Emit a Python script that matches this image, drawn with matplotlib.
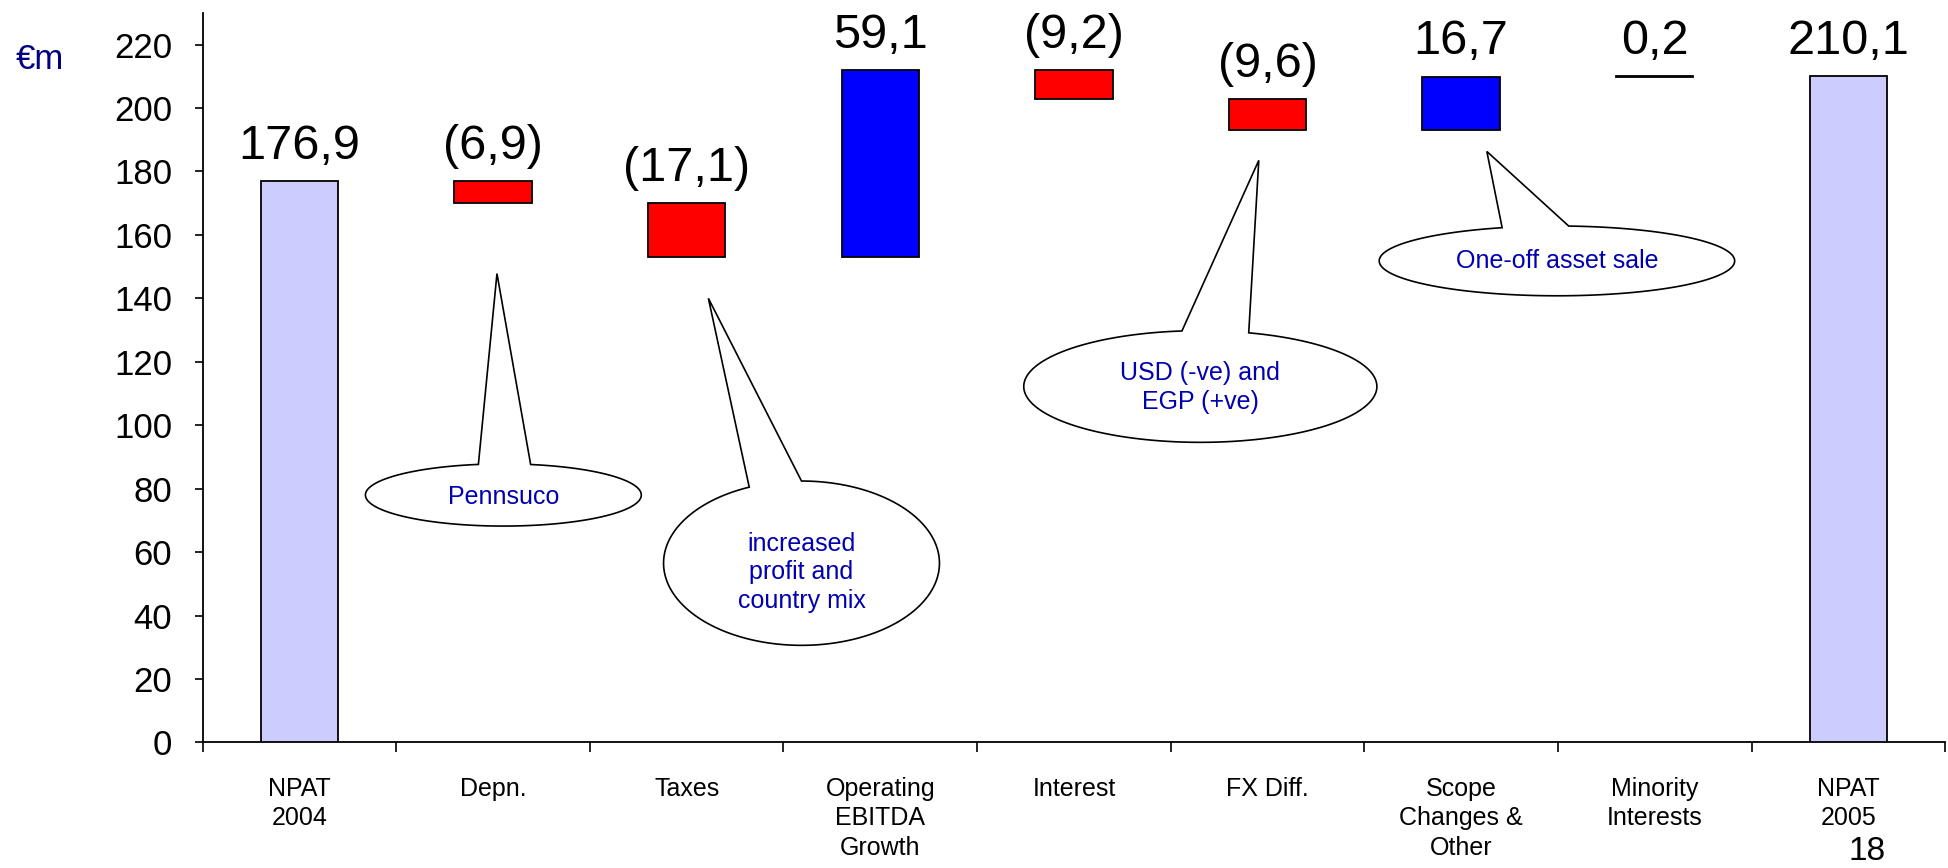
import numpy as np
import matplotlib
matplotlib.use("Agg")
import matplotlib.pyplot as plt
from matplotlib.patches import Polygon

plt.rcParams['font.family'] = ['Liberation Sans', 'DejaVu Sans']

# ---- data ----
categories = ["NPAT\n2004", "Depn.", "Taxes", "Operating\nEBITDA\nGrowth", "Interest",
              "FX Diff.", "Scope\nChanges &\nOther", "Minority\nInterests", "NPAT\n2005"]
start_value = 176.9
deltas = [-6.9, -17.1, 59.1, -9.2, -9.6, 16.7, 0.2]
end_value = 210.1
yticks = list(range(0, 221, 20))

callout_texts = ["Pennsuco", "increased\nprofit and\ncountry mix",
                 "USD (-ve) and\nEGP (+ve)", "One-off asset sale"]

# ---- build waterfall geometry ----
bottoms, heights, colors, labels = [], [], [], []
def fmt(v):
    s = f"{abs(v):.1f}".replace(".", ",")
    return f"({s})" if v < 0 else s

bottoms.append(0); heights.append(start_value); colors.append("#CCCCFF"); labels.append(fmt(start_value))
level = start_value
for d in deltas:
    new = level + d
    bottoms.append(min(level, new)); heights.append(abs(d))
    colors.append("#FF0000" if d < 0 else "#0000FF"); labels.append(fmt(d))
    level = new
bottoms.append(0); heights.append(end_value); colors.append("#CCCCFF"); labels.append(fmt(end_value))

fig = plt.figure(figsize=(19.49, 8.68), dpi=100)
ax = fig.add_axes([0.104, 0.1447, 0.894, 0.8405])

x = np.arange(len(categories))
ax.bar(x, heights, bottom=bottoms, width=0.4, color=colors, edgecolor="black", linewidth=1.3, zorder=3)

for xi, b, h, lab in zip(x, bottoms, heights, labels):
    ax.annotate(lab, (xi, b + h), xytext=(0, 16), textcoords="offset points",
                ha="center", va="baseline", fontsize=35, color="black")

ax.set_xlim(-0.5, len(categories) - 0.5)
ax.set_ylim(0, 230)
ax.set_yticks(yticks)
ax.set_yticklabels([str(t) for t in yticks], fontsize=25)
ax.tick_params(axis="y", length=6, width=1.2, pad=16)

ax.set_xticks(np.arange(-0.5, len(categories), 1.0))
ax.set_xticklabels([])
ax.set_xticks(x, minor=True)
ax.set_xticklabels(categories, minor=True, fontsize=18, linespacing=1.28, va="top")
ax.tick_params(axis="x", which="major", length=7, width=1.2)
ax.tick_params(axis="x", which="minor", length=0, pad=25)

for s in ["top", "right"]:
    ax.spines[s].set_visible(False)
for s in ["left", "bottom"]:
    ax.spines[s].set_linewidth(1.3)

# ---- callouts (speech bubbles) ----
# (center x, center y, semi-axis a, semi-axis b, base left x, base right x, tip x, tip y)
bubbles = [
    (1.053, 78.0, 0.7125, 9.8, 0.924, 1.194, 1.02, 147.8),
    (2.593, 56.5, 0.7125, 25.9, 2.323, 2.593, 2.112, 140.0),
    (4.653, 112.2, 0.912, 17.6, 4.558, 4.903, 4.955, 183.5),
    (6.495, 151.8, 0.918, 11.0, 6.212, 6.556, 6.133, 186.3),
]
text_pos = [(1.053, 77.3), (2.593, 53.7), (4.653, 111.8), (6.495, 151.8)]

for (cx, cy, a, b, xl, xr, tx, ty), txt, (px, py) in zip(bubbles, callout_texts, text_pos):
    tl = np.arccos(np.clip((xl - cx) / a, -1, 1))
    tr = np.arccos(np.clip((xr - cx) / a, -1, 1))
    t = np.linspace(tl, 2 * np.pi + tr, 300)
    pts = np.column_stack([cx + a * np.cos(t), cy + b * np.sin(t)])
    pts = np.vstack([pts, [tx, ty]])
    ax.add_patch(Polygon(pts, closed=True, facecolor="white", edgecolor="black",
                         linewidth=1.2, zorder=4))
    ax.text(px, py, txt, ha="center", va="center", fontsize=18, color="#0000B0",
            linespacing=1.24, zorder=5)

fig.text(0.008, 0.931, "€m", fontsize=25, color="#000080", ha="left", va="center")
fig.text(0.958, 0.019, "18", fontsize=24, color="black", ha="center", va="center")

fig.savefig("out.png", dpi=100)
